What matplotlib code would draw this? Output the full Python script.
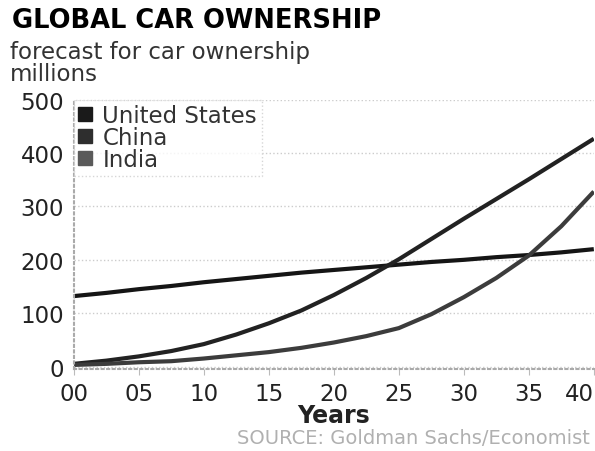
import matplotlib.pyplot as plt
from matplotlib.lines import Line2D

# values (millions of cars)
years = [0, 2.5, 5, 7.5, 10, 12.5, 15, 17.5, 20, 22.5, 25, 27.5, 30, 32.5, 35, 37.5, 40]
us = [132, 138, 145, 151, 158, 164, 170, 176, 181, 186, 191, 196, 200, 205, 209, 214, 220]
china = [5, 11, 19, 29, 42, 60, 81, 105, 134, 166, 201, 239, 277, 314, 351, 389, 427]
india = [3, 5, 8, 10, 15, 21, 27, 35, 45, 57, 72, 98, 130, 166, 208, 263, 328]

tick_years = [0, 5, 10, 15, 20, 25, 30, 35, 40]
tick_labels = ["00", "05", "10", "15", "20", "25", "30", "35", "40"]
series_names = ["United States", "China", "India"]
line_colors = ["#151515", "#222222", "#3c3c3c"]
box_colors = ["#1a1a1a", "#2e2e2e", "#5a5a5a"]

fig = plt.figure(figsize=(5.95, 4.52), dpi=100)
ax = fig.add_axes([0.124, 0.181, 0.874, 0.596])

for vals, c in zip([us, china, india], line_colors):
    ax.plot(years, vals, color=c, lw=3.0, solid_capstyle="butt", solid_joinstyle="round")

ax.set_xlim(0, 40)
ax.set_ylim(-5, 500)
ax.set_yticks([0, 100, 200, 300, 400, 500])
ax.set_xticks(tick_years)
ax.set_xticklabels(tick_labels)
ax.tick_params(axis="y", length=0, labelsize=16.5, pad=7, colors="#222222")
ax.tick_params(axis="x", length=4, color="#bbbbbb", labelsize=16.5, pad=5, labelcolor="#222222")
ax.get_xticklabels()[-1].set_ha("right")

ax.grid(axis="y", color="#cccccc", linestyle=":", linewidth=1)
for s in ["top", "right"]:
    ax.spines[s].set_visible(False)
for s in ["left", "bottom"]:
    ax.spines[s].set_color("#aaaaaa")
    ax.spines[s].set_linestyle(":")
    ax.spines[s].set_linewidth(1.5)

handles = [Line2D([], [], marker="s", ls="", color=c, markersize=10) for c in box_colors]
leg = ax.legend(handles, series_names, loc="upper left", bbox_to_anchor=(0, 1.0),
                fontsize=16.5, frameon=True, fancybox=False, handlelength=0.6,
                handletextpad=0.45, labelspacing=-0.05, borderpad=0.2, borderaxespad=0)
leg.get_frame().set_edgecolor("#cccccc")
leg.get_frame().set_linestyle(":")
for t in leg.get_texts():
    t.set_color("#333333")

ax.set_xlabel("Years", fontsize=17, fontweight="bold", color="#222222", labelpad=-1)

fig.text(0.02, 0.983, "GLOBAL CAR OWNERSHIP", fontsize=18.5, fontweight="bold", va="top")
fig.text(0.017, 0.91, "forecast for car ownership\nmillions", fontsize=16.5, color="#333333",
         va="top", linespacing=0.95)
fig.text(0.992, 0.008, "SOURCE: Goldman Sachs/Economist", fontsize=14, color="#b0b0b0",
         ha="right", va="bottom")

fig.savefig("out.png", dpi=100)
